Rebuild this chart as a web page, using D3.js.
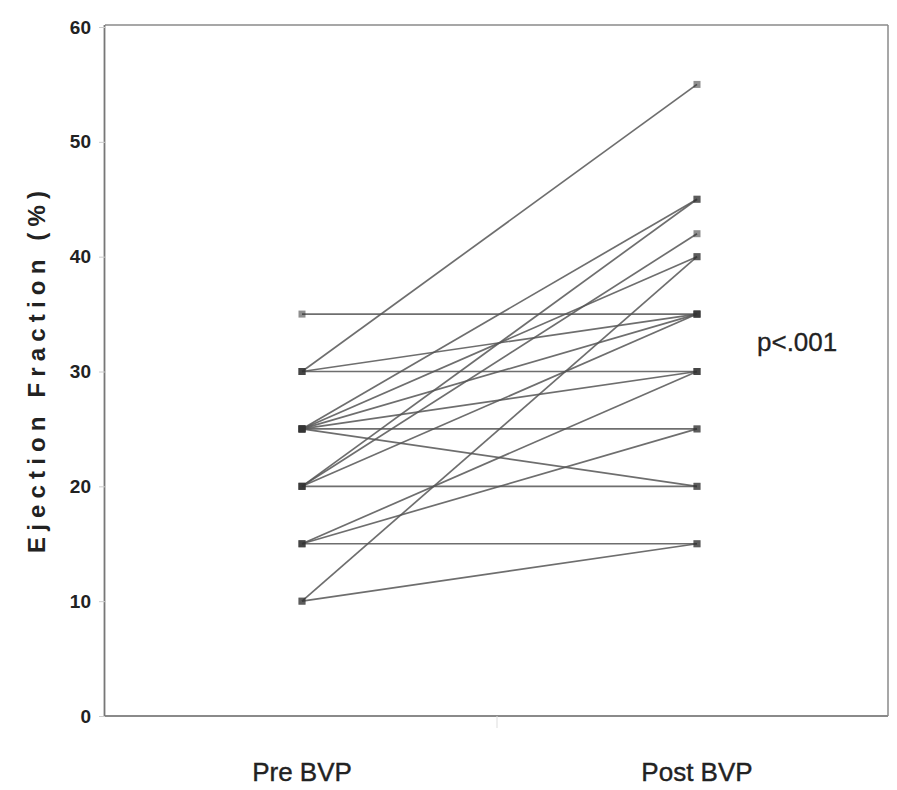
<!DOCTYPE html>
<html>
<head>
<meta charset="utf-8">
<script src="https://cdn.jsdelivr.net/npm/d3@7"></script>
<style>
  html, body { margin: 0; padding: 0; background: #fff; }
  svg { display: block; }
  .lbl { font-family: "Liberation Sans", Arial, sans-serif; fill: #222; }
</style>
</head>
<body>
<svg id="chart" width="897" height="790"></svg>
<script>
// Ejection fraction for each patient, before and after biventricular pacing
const groups = ["Pre BVP", "Post BVP"];
const preEF  = [35, 30, 30, 30, 25, 25, 25, 25, 25, 25, 20, 20, 20, 20, 15, 15, 15, 10, 10];
const postEF = [35, 55, 35, 30, 45, 40, 35, 30, 25, 20, 45, 42, 35, 20, 30, 25, 15, 40, 15];
const yTicks = [0, 10, 20, 30, 40, 50, 60];
const yTitle = "Ejection Fraction (%)";
const pLabel = "p<.001";

const svg = d3.select("#chart");
const margin = { left: 105, right: 888, top: 27, bottom: 716 };

const x = d3.scalePoint().domain(groups).range([302, 697]);
const y = d3.scaleLinear().domain([0, 60]).range([margin.bottom, margin.top]);

// plot frame
const frame = svg.append("g").attr("stroke", "#8a8a8a").attr("fill", "none");
frame.append("line").attr("x1", margin.left).attr("x2", margin.right)
  .attr("y1", margin.top - 2).attr("y2", margin.top - 2).attr("stroke-width", 1.5);
frame.append("line").attr("x1", margin.right).attr("x2", margin.right)
  .attr("y1", margin.top - 2).attr("y2", margin.bottom).attr("stroke-width", 1.5);
frame.append("line").attr("x1", margin.left).attr("x2", margin.right)
  .attr("y1", margin.bottom).attr("y2", margin.bottom).attr("stroke-width", 2.2);
// faint divider tick between the two groups
frame.append("line").attr("x1", 497).attr("x2", 497)
  .attr("y1", margin.bottom).attr("y2", margin.bottom + 12)
  .attr("stroke", "#ddd").attr("stroke-width", 1);

// y axis
const yAxis = d3.axisLeft(y).tickValues(yTicks).tickSize(6).tickPadding(8);
const gy = svg.append("g").attr("transform", `translate(${margin.left},0)`).call(yAxis);
gy.select(".domain").attr("stroke", "#777").attr("stroke-width", 1.8)
  .attr("d", `M-0.5,${margin.top - 2}V${margin.bottom}`);
gy.selectAll(".tick line").attr("stroke", "#ccc");
gy.selectAll(".tick text")
  .attr("class", "lbl")
  .style("font-size", "19px").style("font-weight", "bold")
  .attr("fill", "#444");

// y axis title
svg.append("text").attr("class", "lbl")
  .attr("transform", `translate(45,${372}) rotate(-90)`)
  .attr("text-anchor", "middle")
  .style("font-size", "24px").style("font-weight", "bold")
  .attr("textLength", 362).attr("lengthAdjust", "spacing")
  .attr("fill", "#3a3a3a")
  .text(yTitle);

// group labels
svg.append("g").selectAll("text").data(groups).join("text")
  .attr("class", "lbl")
  .attr("x", d => x(d)).attr("y", 781)
  .attr("text-anchor", "middle")
  .style("font-size", "26px")
  .attr("stroke", "#222").attr("stroke-width", 0.4)
  .text(d => d);

// paired lines
const pairs = preEF.map((v, i) => ({ pre: v, post: postEF[i] }));
svg.append("g").selectAll("line").data(pairs).join("line")
  .attr("x1", x(groups[0])).attr("x2", x(groups[1]))
  .attr("y1", d => y(d.pre)).attr("y2", d => y(d.post))
  .attr("stroke", "#555").attr("stroke-width", 1.7).attr("stroke-opacity", 0.85);

// end markers
const pts = pairs.flatMap(d => [{ g: groups[0], v: d.pre }, { g: groups[1], v: d.post }]);
svg.append("g").selectAll("rect").data(pts).join("rect")
  .attr("x", d => x(d.g) - 3.5).attr("y", d => y(d.v) - 3.5)
  .attr("width", 7).attr("height", 7)
  .attr("fill", "#333").attr("fill-opacity", 0.55);

// significance label
svg.append("text").attr("class", "lbl")
  .attr("x", 757).attr("y", 351)
  .style("font-size", "26px")
  .attr("stroke", "#222").attr("stroke-width", 0.3)
  .text(pLabel);
</script>
</body>
</html>
